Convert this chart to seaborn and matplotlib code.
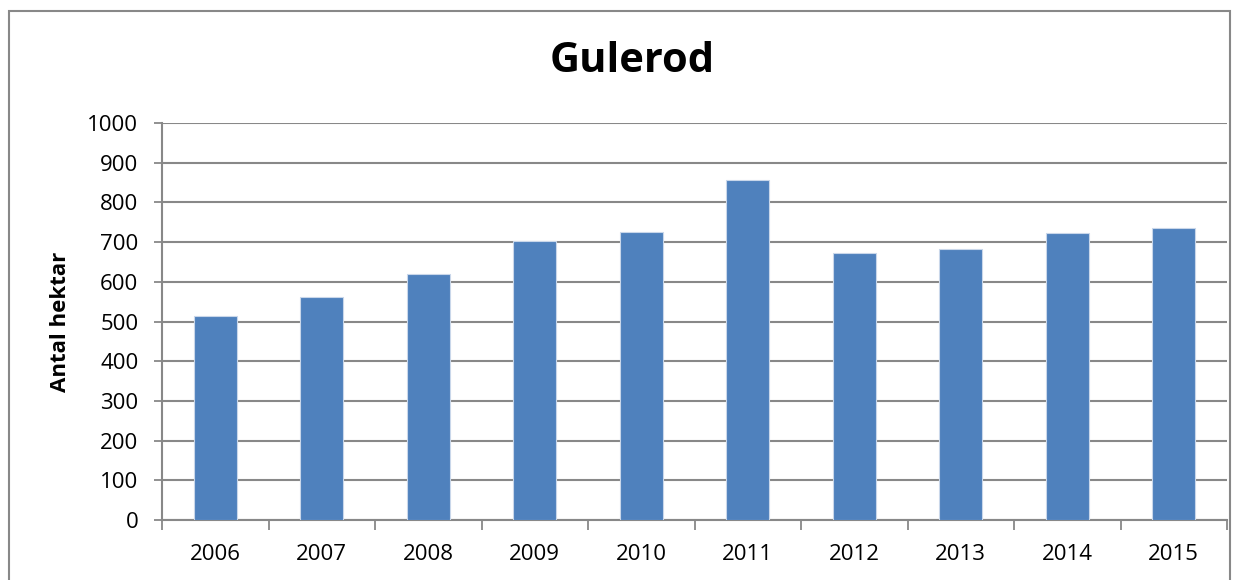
import matplotlib
matplotlib.use("Agg")
import matplotlib.pyplot as plt
import seaborn as sns
import pandas as pd
from matplotlib.patches import Rectangle

years = ["2006", "2007", "2008", "2009", "2010", "2011", "2012", "2013", "2014", "2015"]
hectares = [514, 562, 619, 703, 725, 856, 673, 682, 723, 736]
yticks = [0, 100, 200, 300, 400, 500, 600, 700, 800, 900, 1000]

sns.set_theme(style="white")
plt.rcParams['font.family'] = ['Open Sans', 'DejaVu Sans']

df = pd.DataFrame({"year": years, "value": hectares})

fig = plt.figure(figsize=(12.4, 5.8), dpi=100)
ax = fig.add_axes([162/1240, 60/580, (1227-162)/1240, (520-123)/580])

sns.barplot(data=df, x="year", y="value", color="#4F81BD", width=0.4,
            saturation=1, ax=ax, zorder=3, edgecolor="#C9D7EA", linewidth=0.8)

ax.set_ylim(0, 1000)
ax.set_xlim(-0.5, len(years) - 0.5)
ax.set_yticks(yticks)
ax.set_yticklabels([str(v) for v in yticks], fontsize=16, color="black")
ax.set_xticks(range(len(years)))
ax.set_xticklabels(years, fontsize=16, color="black")
ax.tick_params(axis="x", length=0, pad=17)
ax.tick_params(axis="y", length=6, width=1.3, color="#888888", left=True, pad=11, direction="out")
ax.set_xticks([i - 0.5 for i in range(len(years) + 1)], minor=True)
ax.tick_params(axis="x", which="minor", length=7, width=1.3, color="#888888", bottom=True, direction="out")

ax.yaxis.grid(True, color="#888888", linewidth=1.5, zorder=0)
ax.xaxis.grid(False)
ax.set_axisbelow(True)
for s in ["top", "right"]:
    ax.spines[s].set_visible(False)
for s in ["left", "bottom"]:
    ax.spines[s].set_color("#888888")
    ax.spines[s].set_linewidth(1.5)

ax.set_xlabel("")
ax.set_ylabel("Antal hektar", fontsize=16, fontweight="bold", color="black", labelpad=12)

fig.text(632/1240, 1 - 62/580, "Gulerod", ha="center", va="center",
         fontsize=30, fontweight="bold", color="black")

fig.patches.append(Rectangle((9/1240, -0.05), (1230-9)/1240, 1.05 - 11/580,
                             transform=fig.transFigure, fill=False,
                             edgecolor="#888888", linewidth=1.5))

fig.savefig("out.png", dpi=100, facecolor="white")
